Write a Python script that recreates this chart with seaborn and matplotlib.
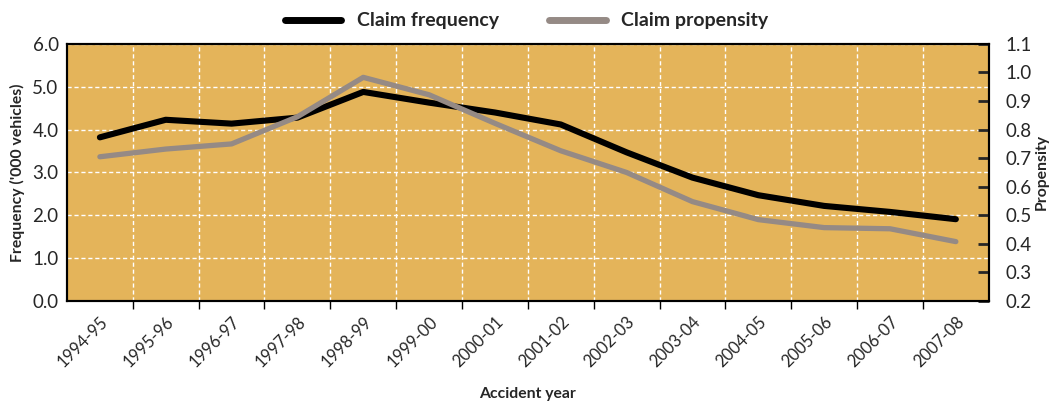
import numpy as np
import pandas as pd
import matplotlib
matplotlib.use("Agg")
import matplotlib.pyplot as plt
from matplotlib.lines import Line2D
from matplotlib.ticker import FixedLocator
import seaborn as sns

years = ["1994-95", "1995-96", "1996-97", "1997-98", "1998-99", "1999-00", "2000-01",
         "2001-02", "2002-03", "2003-04", "2004-05", "2005-06", "2006-07", "2007-08"]
frequency = [3.82, 4.23, 4.14, 4.28, 4.88, 4.63, 4.40, 4.12, 3.47, 2.88, 2.47, 2.22, 2.08, 1.91]
propensity = [0.705, 0.732, 0.750, 0.845, 0.983, 0.922, 0.822, 0.726, 0.650, 0.548, 0.485, 0.457, 0.453, 0.408]
freq_ticks = [0, 1, 2, 3, 4, 5, 6]
prop_ticks = [0.2, 0.3, 0.4, 0.5, 0.6, 0.7, 0.8, 0.9, 1.0, 1.1]

sns.set_style("ticks")
plt.rcParams["font.family"] = ["Lato", "DejaVu Sans"]

gold = "#E4B45A"
grey = "#958A85"
fontsize = 13.5

df = pd.DataFrame({"pos": np.arange(len(years)), "year": years,
                   "frequency": frequency, "propensity": propensity})

fig, ax = plt.subplots(figsize=(10.53, 4.03), dpi=100)
fig.subplots_adjust(left=0.0636, right=0.939, top=0.891, bottom=0.253)
ax.set_facecolor(gold)
ax2 = ax.twinx()

sns.lineplot(data=df, x="pos", y="frequency", ax=ax, color="black", lw=4.4,
             solid_capstyle="round", zorder=3)
sns.lineplot(data=df, x="pos", y="propensity", ax=ax2, color=grey, lw=3.8,
             solid_capstyle="round", zorder=3)

# left axis
ax.set_ylim(0, 6)
ax.set_yticks(freq_ticks)
ax.set_yticklabels([f"{v:.1f}" for v in freq_ticks], fontsize=fontsize)
ax.tick_params(axis="y", length=0, pad=6)
ax.set_ylabel("Frequency ('000 vehicles)", fontsize=11.3, fontweight="bold", labelpad=5)

# x axis: labels at centres, ticks/grid at boundaries
ax.set_xlim(-0.5, len(years) - 0.5)
ax.set_xticks(df["pos"])
ax.set_xticklabels(years, rotation=45, ha="right", rotation_mode="anchor", fontsize=12)
ax.tick_params(axis="x", which="major", length=0, pad=9)
ax.xaxis.set_minor_locator(FixedLocator(np.arange(0.5, len(years) - 0.5, 1)))
ax.tick_params(axis="x", which="minor", length=6, width=1, color="black")
ax.set_xlabel("Accident year", fontsize=11.3, fontweight="bold", labelpad=12)

ax.grid(axis="y", which="major", color="white", ls=(0, (3, 2)), lw=1)
ax.grid(axis="x", which="minor", color="white", ls=(0, (3, 2)), lw=1)
ax.grid(axis="x", which="major", visible=False)
ax.set_axisbelow(True)

# right axis
ax2.set_ylim(0.2, 1.1)
ax2.set_yticks(prop_ticks)
ax2.set_yticklabels([f"{v:.1f}" for v in prop_ticks], fontsize=fontsize)
ax2.tick_params(axis="y", direction="in", length=8, width=2, pad=12)
ax2.set_ylabel("Propensity", fontsize=11.3, fontweight="bold", labelpad=2)
ax2.grid(False)

for a in (ax, ax2):
    for s in a.spines.values():
        s.set_visible(True)
        s.set_color("black")
        s.set_linewidth(1.5)

handles = [Line2D([0], [0], color="black", lw=5, solid_capstyle="round"),
           Line2D([0], [0], color=grey, lw=5, solid_capstyle="round")]
fig.legend(handles, ["Claim frequency", "Claim propensity"], loc="center",
           bbox_to_anchor=(0.5, 0.948), ncol=2, frameon=False, handlelength=2.9,
           columnspacing=2.6, prop={"weight": "bold", "size": 14})

fig.savefig("out.png", dpi=100)
